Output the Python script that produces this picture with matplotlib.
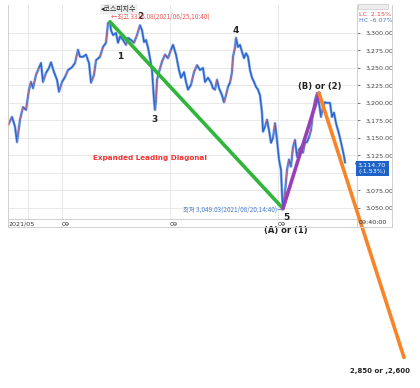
import matplotlib
matplotlib.use("Agg")
import matplotlib.pyplot as plt
import matplotlib.transforms as mtransforms
from matplotlib.collections import LineCollection
from matplotlib.lines import Line2D
import numpy as np

plt.rcParams['font.family'] = ['DejaVu Sans', 'Noto Sans CJK KR']

# 코스피지수 (bar index, price)
bar = [0, 4, 7, 9, 12, 15, 18, 21, 23, 25, 28, 31, 33, 35, 38, 41, 43, 46, 49, 51,
       54, 57, 60, 64, 67, 70, 72, 75, 78, 81, 83, 86, 88, 92, 95, 98, 100, 102, 103, 105,
       108, 110, 112, 115, 118, 120, 123, 126, 129, 132, 134, 136, 138, 140, 142, 144, 145, 146, 147, 148,
       149, 151, 154, 157, 160, 163, 165, 168, 171, 173, 176, 178, 180, 183, 186, 189, 192, 195, 197, 200,
       203, 205, 207, 209, 211, 214, 216, 218, 220, 222, 224, 225, 227, 228, 230, 232, 234, 236, 238, 240,
       242, 244, 246, 248, 250, 252, 254, 255, 257, 259, 261, 263, 265, 267, 269, 271, 273, 274, 275, 277,
       279, 281, 283, 285, 287, 289, 291, 293, 295, 297, 299, 301, 303, 305, 307, 309, 311, 313, 315, 317,
       319, 322, 324, 326, 328, 330, 332, 334, 336, 337]
price = [3168, 3180, 3166, 3144, 3176, 3194, 3190, 3219, 3230, 3221, 3240, 3250, 3257, 3230, 3243, 3250, 3258, 3244, 3233, 3216,
         3230, 3237, 3247, 3251, 3257, 3276, 3266, 3266, 3269, 3257, 3229, 3240, 3261, 3266, 3280, 3286, 3314, 3316, 3304, 3297,
         3300, 3286, 3295, 3290, 3283, 3293, 3290, 3286, 3297, 3311, 3304, 3287, 3290, 3279, 3264, 3247, 3226, 3204, 3190, 3204,
         3233, 3244, 3259, 3269, 3264, 3276, 3283, 3269, 3247, 3236, 3244, 3230, 3219, 3226, 3244, 3254, 3247, 3250, 3230, 3236,
         3229, 3221, 3219, 3233, 3221, 3211, 3201, 3211, 3223, 3229, 3244, 3266, 3279, 3293, 3280, 3283, 3273, 3264, 3271, 3266,
         3247, 3236, 3230, 3223, 3219, 3211, 3186, 3159, 3166, 3176, 3161, 3143, 3150, 3171, 3147, 3119, 3104, 3070, 3049, 3072,
         3104, 3119, 3109, 3137, 3147, 3123, 3133, 3137, 3129, 3143, 3144, 3151, 3161, 3187, 3204, 3214, 3200, 3180, 3194, 3201,
         3200, 3200, 3180, 3186, 3171, 3161, 3150, 3137, 3124, 3115]

# 파동 카운트 pivots
green_x, green_y = [102, 275], [3316, 3049]
purple_x, purple_y = [275, 311], [3049, 3214]
orange_x, orange_y = [311, 396], [3214, 2836]

yticks = [3050, 3075, 3100, 3125, 3150, 3175, 3200, 3225, 3250, 3275, 3300]
xgrid = [20, 54, 162, 270]
xlabels = ['2021/05', '09', '09', '09']
last_price = 3114.70
last_chg = -1.53

fig = plt.figure(figsize=(4.2, 3.88), dpi=100)
W, H = 420.0, 388.0
ax = fig.add_axes([8 / W, 1 - 219 / H, 349 / W, 214 / H])
ax.set_xlim(0, 349)
ax.set_ylim(3034, 3340)

for g in yticks:
    ax.axhline(g, color='#e8e8e8', lw=0.7, zorder=0)
for g in xgrid:
    ax.axvline(g, color='#e8e8e8', lw=0.7, zorder=0)

# price line: blue base, a few red streaks on big rises
ax.plot(bar, price, color='#9bbbe8', lw=2.0, zorder=1)
ax.plot(bar, price, color='#2a66d0', lw=1.1, zorder=2)
pts = np.column_stack([bar, price])
segs = [pts[i:i + 2] for i in range(len(pts) - 1) if price[i + 1] - price[i] >= 10]
ax.add_collection(LineCollection(segs, colors='#ec6a78', lw=0.6, alpha=0.85, zorder=3))

# wave lines
ax.plot(green_x, green_y, color='#2fb53a', lw=2.6, zorder=4, solid_capstyle='round')
ax.plot(purple_x, purple_y, color='#9a3fb8', lw=2.6, zorder=4, solid_capstyle='round')
ax.plot(orange_x, orange_y, color='#f88427', lw=2.6, zorder=6, clip_on=False, solid_capstyle='round')

lab = dict(fontsize=6.5, fontweight='bold', ha='center', va='center', color='#222222', clip_on=False)
ax.text(112, 3266, '1', **lab)
ax.text(132, 3323, '2', **lab)
ax.text(146, 3176, '3', **lab)
ax.text(228, 3304, '4', **lab)
ax.text(278, 3036, '5', **lab)
ax.text(278, 3017, '(A) or (1)', fontsize=6, fontweight='bold', ha='center', va='center', color='#222222')
ax.text(312, 3224, '(B) or (2)', fontsize=6, fontweight='bold', ha='center', va='center', color='#222222')
ax.text(142, 3121, 'Expanded Leading Diagonal', fontsize=5.2, fontweight='bold',
        ha='center', va='center', color='#ee3333')
ax.text(372, 2816, '2,850 or ,2,600', fontsize=5, fontweight='bold', ha='center', va='center',
        color='#222222', clip_on=False)

ax.text(103, 3323, '←최고 3316.08(2021/06/25,10:40)', fontsize=4.6, color='#ee5555',
        ha='left', va='center', family=['Noto Sans CJK KR', 'DejaVu Sans'])
ax.text(275, 3047, '최저 3,049.03(2021/08/20,14:40)→', fontsize=4.6, color='#4a7fd0',
        ha='right', va='center', family=['Noto Sans CJK KR', 'DejaVu Sans'])
ax.text(93, 3334, '◂코스피지수', fontsize=5, color='#222222', ha='left', va='center',
        family=['Noto Sans CJK KR', 'DejaVu Sans'],
        bbox=dict(boxstyle='round,pad=0.15', fc='#eeeeee', ec='none'))

# axes / price column (3,100 sits under the current-price tag)
ax.yaxis.tick_right()
ax.set_yticks(yticks)
ax.set_yticklabels(['' if v == 3100 else '{:,.2f}'.format(v) for v in yticks])
ax.tick_params(axis='y', length=2, width=0.5, pad=4, labelsize=4.6, colors='#444444')
ax.set_xticks([])
ax.spines['top'].set_visible(False)
for s in ['left', 'bottom', 'right']:
    ax.spines[s].set_color('#cfcfcf')
    ax.spines[s].set_linewidth(0.7)

trans_x = mtransforms.blended_transform_factory(ax.transData, ax.transAxes)
for x, t in zip(xgrid, xlabels):
    xx = 1 if t == '2021/05' else x
    ax.text(xx, -0.012, t, transform=trans_x, fontsize=4.6, color='#333333', ha='left', va='top')

trans_y = mtransforms.blended_transform_factory(ax.transAxes, ax.transData)
ax.text(1.003, 3106, '{:,.2f}\n({:.2f}%)'.format(last_price, last_chg), transform=trans_y,
        fontsize=4.6, color='white', ha='left', va='center', linespacing=1.3,
        bbox=dict(boxstyle='square,pad=0.35', fc='#1e62c8', ec='none'), zorder=5)
ax.plot([1.0], [last_price], transform=trans_y, marker='<', color='#1e62c8', ms=3, clip_on=False)

fig.text(359 / W, 1 - 14 / H, 'LC  2.15%', fontsize=4.6, color='#ee4444', ha='left', va='center')
fig.text(359 / W, 1 - 20 / H, 'HC -6.07%', fontsize=4.6, color='#4a7fd0', ha='left', va='center')
fig.text(359 / W, 1 - 223 / H, '09:40:00', fontsize=4.6, color='#333333', ha='left', va='center')
fig.patches.append(plt.Rectangle((358 / W, 1 - 9 / H), 30 / W, 5 / H, transform=fig.transFigure,
                                 fc='#eeeeee', ec='#bbbbbb', lw=0.4))

# outer frame
fc = '#cfcfcf'
fig.add_artist(Line2D([8 / W, 392 / W], [1 - 227 / H, 1 - 227 / H], color=fc, lw=0.7))
fig.add_artist(Line2D([392 / W, 392 / W], [1 - 5 / H, 1 - 227 / H], color=fc, lw=0.7))
fig.add_artist(Line2D([8 / W, 8 / W], [1 - 219 / H, 1 - 227 / H], color=fc, lw=0.7))
fig.add_artist(Line2D([357 / W, 357 / W], [1 - 219 / H, 1 - 227 / H], color=fc, lw=0.7))

fig.savefig('out.png', dpi=100)
